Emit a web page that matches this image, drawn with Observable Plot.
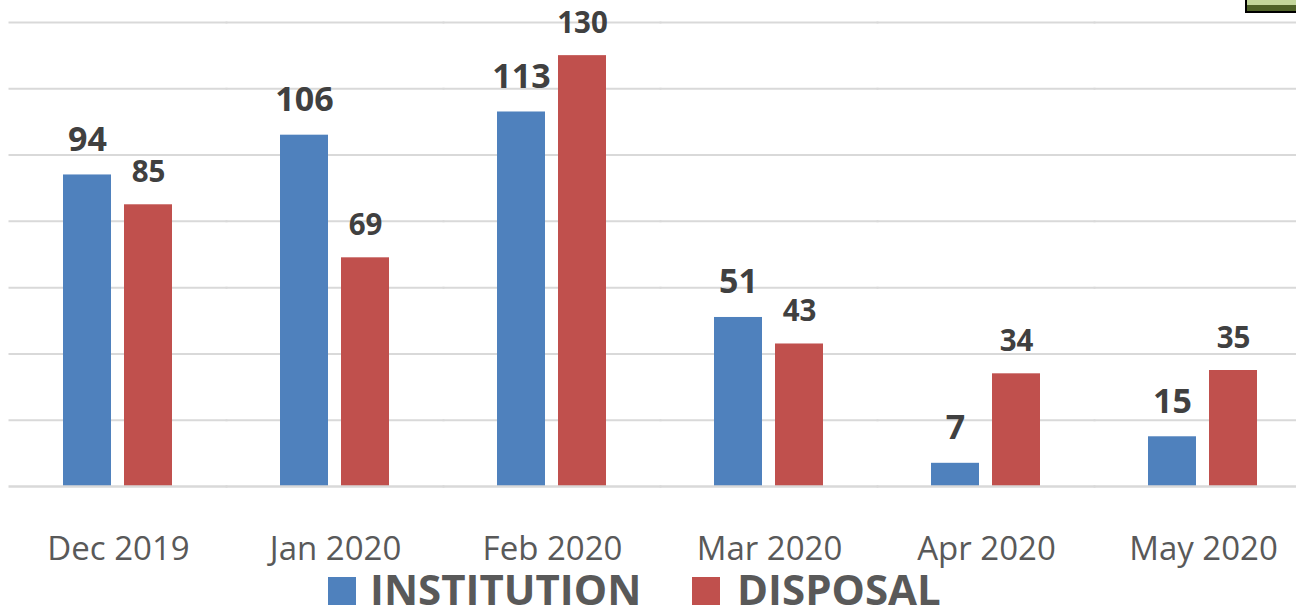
<!DOCTYPE html>
<html>
<head>
<meta charset="utf-8">
<script src="https://cdn.jsdelivr.net/npm/d3@7"></script>
<script src="https://cdn.jsdelivr.net/npm/@observablehq/plot@0.6"></script>
<style>
  html, body { margin: 0; padding: 0; background: #fff; width: 1296px; height: 608px; overflow: hidden; position: relative; font-family: "Open Sans", sans-serif; }
  #chart svg { display: block; overflow: visible; }
  .sw { position: absolute; width: 28px; height: 28px; }
  .lt { position: absolute; font-weight: 700; font-size: 42px; line-height: 34px; color: #595959; white-space: nowrap; }
  #corner { position: absolute; left: 1245px; top: -2px; width: 49px; height: 11px; border: 2px solid #000; background: linear-gradient(#c3d69b 0 45%, #4f6228 45% 100%); }
</style>
</head>
<body>
<div id="chart"></div>
<div id="legend"></div>
<div id="corner"></div>
<script>
const months = ["Dec 2019", "Jan 2020", "Feb 2020", "Mar 2020", "Apr 2020", "May 2020"];
const series = ["INSTITUTION", "DISPOSAL"];
const institution = [94, 106, 113, 51, 7, 15];
const disposal = [85, 69, 130, 43, 34, 35];
const colors = ["#4f81bd", "#c0504d"];
const gridValues = [20, 40, 60, 80, 100, 120, 140];

const data = months.flatMap((m, i) => [
  {month: m, series: series[0], value: institution[i]},
  {month: m, series: series[1], value: disposal[i]}
]);

const chart = Plot.plot({
  width: 1296,
  height: 570,
  marginLeft: 9,
  marginRight: -16,
  marginTop: 22,
  marginBottom: 84,
  style: {fontFamily: "'Open Sans', sans-serif", background: "transparent", overflow: "visible"},
  fx: {domain: months, paddingInner: 0.4936, paddingOuter: 0.2468, label: null},
  x: {domain: series, paddingInner: 0.21, paddingOuter: 0, axis: null},
  y: {domain: [0, 140], axis: null},
  color: {domain: series, range: colors},
  marks: [
    Plot.ruleY(gridValues, {stroke: "#d9d9d9", strokeWidth: 2, insetLeft: -54.5, insetRight: -54.5}),
    Plot.barY(data, {fx: "month", x: "series", y: "value", fill: "series"}),
    Plot.ruleY([0], {stroke: "#d9d9d9", strokeWidth: 2.5, insetLeft: -54.5, insetRight: -54.5}),
    Plot.text(data.filter(d => d.series === series[0]), {
      fx: "month", x: "series", y: "value", text: d => String(d.value),
      lineAnchor: "bottom", dy: -24, fontSize: 34, fontWeight: 700, fill: "#404040"
    }),
    Plot.text(data.filter(d => d.series === series[1]), {
      fx: "month", x: "series", y: "value", text: d => String(d.value),
      lineAnchor: "bottom", dy: -23, fontSize: 29.5, fontWeight: 700, fill: "#404040"
    }),
    Plot.axisFx({anchor: "bottom", tickSize: 0, tickPadding: 50, fontSize: 33, color: "#595959", label: null})
  ]
});
document.getElementById("chart").appendChild(chart);

const legend = document.getElementById("legend");
const pos = [{sq: 328, tx: 370}, {sq: 692, tx: 737}];
series.forEach((s, i) => {
  const sq = document.createElement("div");
  sq.className = "sw";
  sq.style.left = pos[i].sq + "px";
  sq.style.top = "577px";
  sq.style.background = colors[i];
  legend.appendChild(sq);
  const t = document.createElement("div");
  t.className = "lt";
  t.style.left = pos[i].tx + "px";
  t.style.top = "572px";
  t.textContent = s;
  legend.appendChild(t);
});
</script>
</body>
</html>
